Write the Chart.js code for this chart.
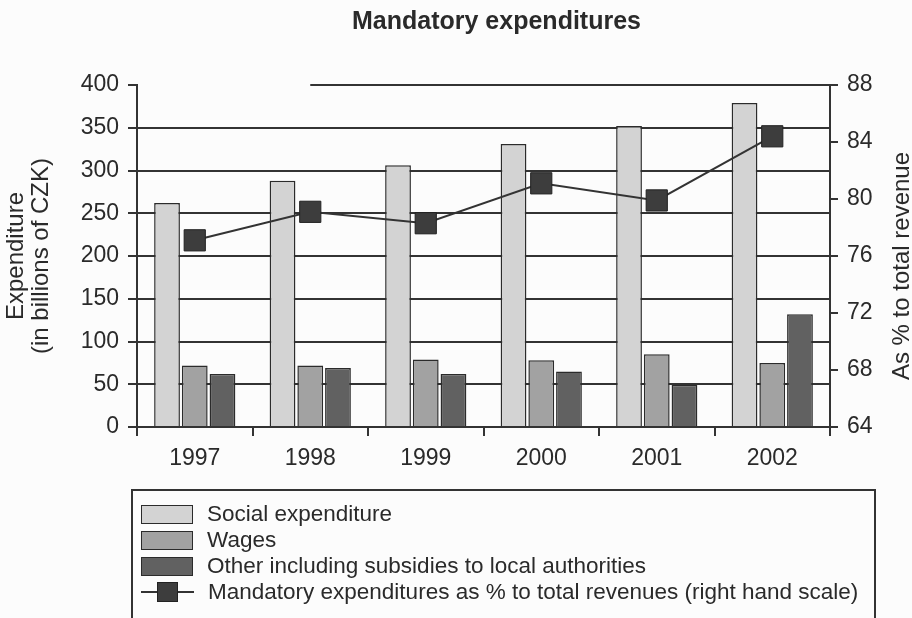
<!DOCTYPE html>
<html>
<head>
<meta charset="utf-8">
<script src="https://cdn.jsdelivr.net/npm/chart.js@4.4.0/dist/chart.umd.min.js"></script>
<style>
  body { margin: 0; background: #fcfcfc; }
  #wrap { position: relative; width: 912px; height: 618px; overflow: hidden; }
  #legend {
    position: absolute; left: 131px; top: 489px; width: 745px; height: 140px;
    border: 2px solid #333; box-sizing: border-box; padding: 10px 0 0 8px;
    font: 22.5px "Liberation Sans", Arial, sans-serif; color: #2a2a2a;
  }
  .row { height: 26px; display: flex; align-items: center; white-space: nowrap; }
  .sw { width: 50px; height: 17px; border: 1.5px solid #2b2b2b; margin-right: 14px; flex: none; }
  .ln { position: relative; width: 53px; height: 22px; margin-right: 14px; flex: none; }
  .ln::before { content: ""; position: absolute; left: 0; right: 0; top: 10px; border-top: 2px solid #333; }
  .ln::after { content: ""; position: absolute; left: 16px; top: 1px; width: 21px; height: 20px; background: #3d3d3d; border: 1px solid #222; box-sizing: border-box; }
</style>
</head>
<body>
<div id="wrap">
  <canvas id="expCanvas" width="912" height="618"></canvas>
  <div id="legend">
    <div class="row"><span class="sw" style="background:#d3d3d3"></span>Social expenditure</div>
    <div class="row"><span class="sw" style="background:#a2a2a2"></span>Wages</div>
    <div class="row"><span class="sw" style="background:#616161"></span>Other including subsidies to local authorities</div>
    <div class="row"><span class="ln"></span>Mandatory expenditures as % to total revenues (right hand scale)</div>
  </div>
</div>
<script>
const years = ["1997", "1998", "1999", "2000", "2001", "2002"];
const socialExp = [262, 288, 306, 331, 352, 379];
const wages = [72, 72, 79, 78, 85, 75];
const otherExp = [62, 69, 62, 65, 49, 132];
const sharePct = [77.1, 79.1, 78.3, 81.1, 79.9, 84.4];

const leftMin = 0, leftMax = 400, leftStep = 50;
const rightMin = 64, rightMax = 88, rightStep = 4;

const ink = "#2a2a2a";
const tickFont = { family: "Liberation Sans", size: 23 };

// title, right-hand axis title and the short top rule
const extras = {
  id: "extras",
  beforeDatasetsDraw(chart) {
    const { ctx, chartArea, scales } = chart;
    const y = scales.y.getPixelForValue(leftMax);
    ctx.save();
    ctx.strokeStyle = "#333";
    ctx.lineWidth = 2;
    ctx.beginPath();
    ctx.moveTo(scales.x.getPixelForValue(1), y);
    ctx.lineTo(chartArea.right, y);
    ctx.stroke();
    ctx.restore();
  },
  afterDraw(chart) {
    const { ctx, chartArea, scales } = chart;
    ctx.save();
    ctx.fillStyle = ink;
    ctx.textAlign = "center";
    ctx.textBaseline = "middle";
    ctx.font = "bold 25px 'Liberation Sans'";
    ctx.fillText("Mandatory expenditures", (chartArea.left + chartArea.right) / 2 + 13, 22);

    ctx.font = "24px 'Liberation Sans'";
    ctx.translate(scales.y1.right - 10, (chartArea.top + chartArea.bottom) / 2 + 10);
    ctx.rotate(-Math.PI / 2);
    ctx.fillText("As % to total revenue", 0, 0);
    ctx.restore();
  }
};

new Chart(document.getElementById("expCanvas"), {
  data: {
    labels: years,
    datasets: [{
      type: "line",
      label: "Mandatory expenditures as % to total revenues (right hand scale)",
      data: sharePct,
      yAxisID: "y1",
      order: 0,
      borderColor: "#333",
      borderWidth: 2,
      pointStyle: "rect",
      pointRadius: 15,
      pointBackgroundColor: "#3d3d3d",
      pointBorderColor: "#222",
      pointBorderWidth: 1
    }, {
      type: "bar",
      label: "Social expenditure",
      data: socialExp,
      backgroundColor: "#d3d3d3",
      borderColor: "#2b2b2b",
      borderWidth: 1.5,
      order: 1,
      barPercentage: 0.93,
      categoryPercentage: 0.72
    }, {
      type: "bar",
      label: "Wages",
      data: wages,
      backgroundColor: "#a2a2a2",
      borderColor: "#2b2b2b",
      borderWidth: 1.5,
      order: 1,
      barPercentage: 0.93,
      categoryPercentage: 0.72
    }, {
      type: "bar",
      label: "Other including subsidies to local authorities",
      data: otherExp,
      backgroundColor: "#616161",
      borderColor: "#2b2b2b",
      borderWidth: 1.5,
      order: 1,
      barPercentage: 0.93,
      categoryPercentage: 0.72
    }]
  },
  options: {
    responsive: false,
    animation: false,
    layout: { padding: { top: 85, bottom: 146, left: 0, right: 0 } },
    plugins: {
      legend: { display: false },
      title: { display: false },
      tooltip: { enabled: false }
    },
    scales: {
      x: {
        offset: true,
        grid: { offset: true, drawOnChartArea: false, tickLength: 9, tickColor: "#333", lineWidth: 2 },
        border: { color: "#333", width: 2 },
        ticks: { font: tickFont, color: ink, padding: 9 },
        afterFit(s) { s.height = 45; }
      },
      y: {
        position: "left",
        min: leftMin,
        max: leftMax,
        ticks: { stepSize: leftStep, font: tickFont, color: ink, padding: 9 },
        grid: {
          color: c => (c.tick.value === leftMax || c.tick.value === leftMin) ? "transparent" : "#333",
          lineWidth: 2,
          tickLength: 9,
          tickColor: "#333"
        },
        border: { color: "#333", width: 2 },
        title: {
          display: true,
          text: ["Expenditure", "(in billions of CZK)"],
          font: { family: "Liberation Sans", size: 24, lineHeight: 1.05 },
          color: ink,
          padding: { top: 4, bottom: 0 }
        },
        afterFit(s) { s.width = 137; }
      },
      y1: {
        position: "right",
        min: rightMin,
        max: rightMax,
        ticks: { stepSize: rightStep, font: tickFont, color: ink, padding: 9 },
        grid: { drawOnChartArea: false, tickLength: 8, tickColor: "#333", lineWidth: 2 },
        border: { color: "#333", width: 2 },
        afterFit(s) { s.width = 82; }
      }
    }
  },
  plugins: [extras]
});
</script>
</body>
</html>
